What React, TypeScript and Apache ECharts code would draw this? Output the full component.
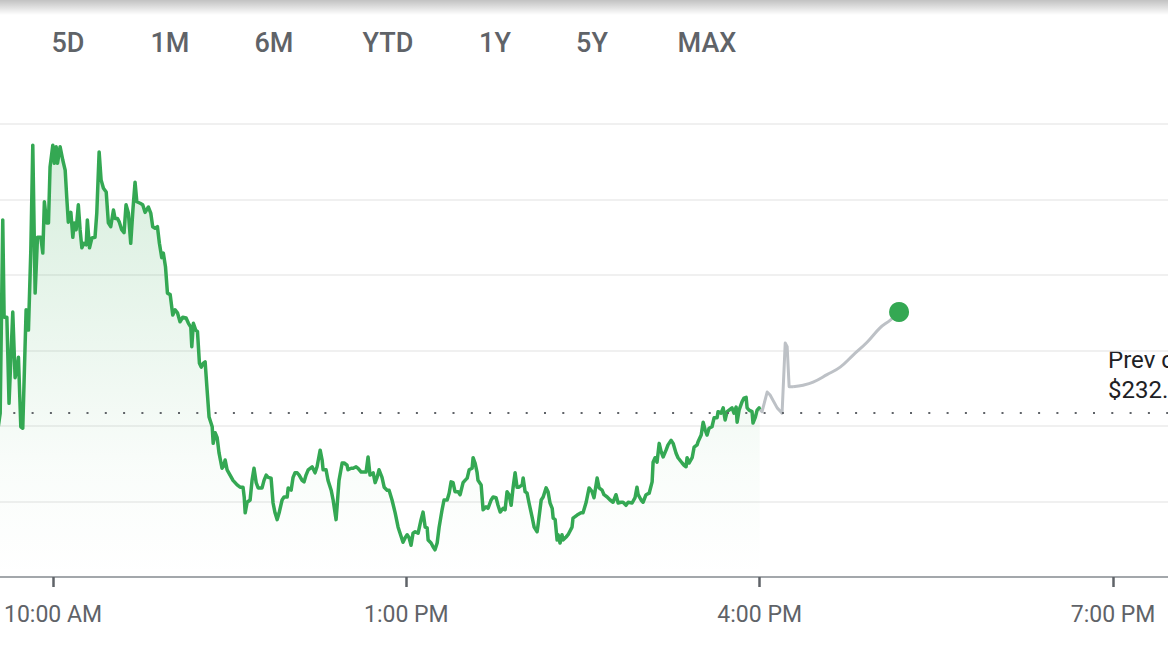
import React, { useEffect, useRef } from "react";
import * as echarts from "echarts";

// Range selector labels
const rangeLabels = ["5D", "1M", "6M", "YTD", "1Y", "5Y", "MAX"];

// Session clock: minutes after midnight of the 9:30 AM open
const openClock = 570;
// Visible time window (clock minutes) and tick times
const windowStart = 573;
const windowEnd = 1168;
const tickTimes = [600, 780, 960, 1140];

// Price axis
const priceMin = 230;
const priceMax = 236;
const priceStep = 1;
const prevClose = 232.17;

// Regular session — minutes after the open, and prices
const openMinutes = [
  2.0, 3.1, 4.4, 5.1, 6.5, 7.6, 9.5, 10.7, 11.6, 12.4, 13.6, 14.6, 16.3, 17.5, 18.7, 19.7, 20.9, 22.1, 23.8, 24.8,
  25.6, 26.8, 27.7, 28.5, 29.9, 30.7, 31.6, 32.3, 33.6, 35.0, 36.2, 37.0, 37.8, 39.1, 40.1, 40.8, 41.8, 42.9, 43.8, 44.7,
  45.8, 46.9, 47.5, 48.6, 49.8, 51.4, 52.3, 53.5, 54.5, 55.7, 57.1, 58.2, 59.4, 60.8, 61.6, 62.8, 63.8, 65.0, 66.2, 67.2,
  68.4, 69.6, 70.7, 71.8, 72.7, 74.4, 75.7, 76.9, 78.6, 79.8, 80.8, 82.0, 83.2, 84.2, 85.4, 86.2, 87.3, 88.3, 89.7, 91.0,
  92.2, 93.4, 94.7, 96.1, 97.8, 99.0, 100.2, 100.7, 101.5, 102.7, 103.6, 104.6,
];
const openPrices = [
  231.97, 232.17, 234.73, 233.44, 233.44, 232.3, 233.51, 232.64, 232.74, 232.91, 231.99, 231.97, 233.54, 233.27, 234.33, 235.72, 233.76, 234.5, 234.5, 234.29,
  234.97, 234.69, 234.69, 235.43, 235.72, 235.48, 235.7, 235.48, 235.7, 235.52, 235.39, 235.03, 234.7, 234.83, 234.5, 234.69, 234.6, 234.93, 234.6, 234.36,
  234.42, 234.4, 234.73, 234.36, 234.49, 234.5, 234.82, 235.63, 235.26, 235.15, 235.1, 234.69, 234.64, 234.86, 234.75, 234.75, 234.7, 234.6, 234.56, 234.93,
  234.82, 234.42, 234.86, 235.23, 234.97, 234.95, 234.93, 234.83, 234.9, 234.82, 234.64, 234.62, 234.64, 234.42, 234.23, 234.29, 234.11, 233.76, 233.74, 233.47,
  233.54, 233.5, 233.38, 233.44, 233.43, 233.36, 233.31, 233.05, 233.36, 233.27, 233.25, 232.83,
];

const middayMinutes = [
  105.5, 106.5, 107.5, 108.5, 109.5, 111.1, 111.6, 112.6, 113.6, 114.6, 116.1, 116.7, 117.7, 118.7, 120.2, 121.7, 123.8, 125.3, 126.8, 127.4,
  127.9, 128.9, 130.4, 131.4, 132.4, 133.5, 134.5, 136.5, 137.5, 138.6, 139.6, 141.1, 142.1, 143.1, 144.2, 145.2, 146.7, 147.7, 149.3, 149.8,
  151.3, 152.3, 153.3, 154.4, 155.4, 156.9, 157.9, 158.9, 160.0, 162.0, 163.5, 164.5, 166.1, 167.1, 167.6, 169.1, 170.1, 171.7, 172.7, 174.2,
  174.7, 175.7, 177.3, 178.3, 179.8, 180.3, 181.9, 182.9, 184.4, 185.4, 187.0, 188.0, 189.5, 190.5, 191.5, 193.1, 194.1, 195.1, 196.1, 197.6,
  198.7, 200.2, 201.2, 202.7, 204.3, 205.8,
];
const middayPrices = [
  232.78, 232.83, 232.85, 232.48, 232.12, 231.99, 231.77, 231.91, 231.85, 231.64, 231.44, 231.46, 231.55, 231.42, 231.35, 231.28, 231.22, 231.19, 231.19, 231.06,
  230.85, 230.99, 231.02, 231.28, 231.44, 231.25, 231.18, 231.18, 231.28, 231.35, 231.32, 231.31, 230.98, 230.85, 230.76, 230.85, 231.02, 231.06, 231.06, 231.18,
  231.15, 231.32, 231.38, 231.38, 231.35, 231.28, 231.26, 231.35, 231.42, 231.46, 231.38, 231.46, 231.68, 231.55, 231.42, 231.42, 231.28, 231.15, 231.02, 230.76,
  230.93, 231.28, 231.51, 231.51, 231.48, 231.42, 231.44, 231.44, 231.46, 231.44, 231.39, 231.39, 231.39, 231.59, 231.35, 231.38, 231.25, 231.32, 231.42, 231.32,
  231.19, 231.15, 231.15, 231.02, 230.85, 230.66,
];

const afternoonMinutes = [
  206.8, 208.3, 209.4, 210.4, 211.4, 212.4, 213.4, 214.5, 216.0, 217.5, 218.5, 219.6, 220.6, 221.1, 222.6, 223.6, 224.6, 225.7, 226.7, 228.2,
  229.2, 230.8, 231.8, 232.8, 233.8, 234.8, 236.4, 237.4, 238.9, 239.9, 241.0, 242.0, 243.5, 244.0, 245.0, 246.0, 246.5, 248.1, 249.1, 250.6,
  251.6, 253.2, 254.2, 255.7, 256.7, 257.8, 259.3, 260.3, 261.3, 262.3, 263.4, 264.4, 265.4, 266.4, 267.4, 269.0, 269.5, 270.5, 271.5, 272.5,
  274.1, 275.1, 276.6, 277.1, 278.7, 279.7, 281.2, 282.2, 283.2, 284.3, 284.8, 285.8, 286.8, 287.3, 288.3, 289.3, 289.8, 291.4, 292.4, 294.4,
  294.9, 297.0, 299.0, 300.0, 301.6, 303.1, 304.6, 305.6, 307.2, 308.2, 309.7, 310.7, 312.3, 313.8,
];
const afternoonPrices = [
  230.58, 230.46, 230.52, 230.56, 230.52, 230.42, 230.58, 230.6, 230.58, 230.76, 230.86, 230.66, 230.65, 230.49, 230.45, 230.4, 230.36, 230.45, 230.66, 230.89,
  231.02, 231.02, 231.11, 231.26, 231.25, 231.13, 231.13, 231.09, 231.25, 231.28, 231.31, 231.42, 231.44, 231.58, 231.51, 231.39, 231.28, 231.22, 230.89, 230.93,
  230.91, 231.02, 231.06, 231.05, 230.95, 230.86, 230.91, 230.89, 231.13, 231.09, 230.95, 231.19, 231.38, 231.19, 231.19, 231.22, 231.31, 231.13, 231.11, 230.98,
  230.79, 230.66, 230.6, 230.69, 231.02, 231.06, 231.18, 231.13, 230.98, 230.91, 230.78, 230.76, 230.49, 230.56, 230.45, 230.56, 230.49, 230.53, 230.56, 230.66,
  230.78, 230.82, 230.85, 230.85, 230.99, 231.18, 231.13, 231.05, 231.31, 231.18, 231.15, 231.09, 231.06, 231.02,
];

const closeMinutes = [
  315.3, 316.8, 317.9, 319.4, 320.4, 321.9, 323.0, 325.0, 326.5, 327.5, 328.1, 329.6, 330.6, 332.1, 333.7, 335.2, 335.7, 336.7, 337.7, 338.8,
  339.8, 340.8, 342.3, 343.3, 344.9, 345.9, 347.4, 348.4, 350.5, 351.5, 352.5, 353.0, 354.0, 355.6, 356.6, 358.1, 358.6, 360.2, 361.2, 362.2,
  363.2, 364.2, 365.7, 366.8, 368.3, 368.8, 370.3, 371.4, 372.4, 373.4, 374.4, 375.9, 376.9, 378.0, 378.5, 379.5, 381.0, 382.0, 383.1, 383.6,
  384.6, 386.1, 386.6, 387.7, 388.7, 389.7, 390.0,
];
const closePrices = [
  230.99, 231.09, 230.98, 230.99, 230.99, 230.95, 230.99, 230.98, 231.05, 231.19, 231.09, 231.02, 230.99, 231.09, 231.11, 231.26, 231.52, 231.58, 231.52, 231.77,
  231.66, 231.59, 231.68, 231.75, 231.81, 231.77, 231.64, 231.58, 231.51, 231.48, 231.46, 231.58, 231.51, 231.58, 231.72, 231.75, 231.79, 231.88, 232.05, 231.95,
  231.88, 231.97, 231.99, 232.11, 232.11, 232.19, 232.17, 232.24, 232.08, 232.19, 232.21, 232.24, 232.17, 232.25, 232.05, 232.21, 232.32, 232.37, 232.38, 232.24,
  232.21, 232.19, 232.04, 232.11, 232.21, 232.24, 232.22,
];

// After-hours trading: the early spikes, then the smooth late drift
const afterHoursMinutes = [390.0, 391.2, 393.8, 395.3, 398.9, 401.4, 403.0, 404.0, 405.0, 407.0];
const afterHoursPrices = [232.22, 232.19, 232.45, 232.41, 232.24, 232.17, 233.1, 233.05, 232.52, 232.52];
const lateMinutes = [407.0, 412.1, 417.2, 424.3, 431.0, 437.6, 444.7, 451.3, 456.4, 461.0];
const latePrices = [232.52, 232.54, 232.58, 232.68, 232.78, 232.94, 233.11, 233.3, 233.4, 233.51];

const GREEN = "#34a853";
const GREY = "#bdc1c6";
const FONT = "Roboto, 'Noto Sans', sans-serif";

function pairs(minutes: number[], prices: number[]): number[][] {
  return minutes.map((m, i) => [openClock + m, prices[i]]);
}

function clockLabel(v: number): string {
  const h = Math.floor(v / 60);
  const mm = Math.round(v - h * 60);
  const h12 = h % 12 === 0 ? 12 : h % 12;
  return `${h12}:${mm < 10 ? "0" + mm : mm} ${h >= 12 ? "PM" : "AM"}`;
}

export default function App() {
  const ref = useRef<HTMLDivElement>(null);

  useEffect(() => {
    if (!ref.current) return;
    const chart = echarts.init(ref.current, undefined, { renderer: "svg" });

    const session = [
      ...pairs(openMinutes, openPrices),
      ...pairs(middayMinutes, middayPrices),
      ...pairs(afternoonMinutes, afternoonPrices),
      ...pairs(closeMinutes, closePrices),
    ];
    const afterHours = pairs(afterHoursMinutes, afterHoursPrices);
    const late = pairs(lateMinutes, latePrices);
    const last = late[late.length - 1];

    const buttonX = [68, 170, 274, 388, 495, 592, 707];

    chart.setOption({
      animation: false,
      backgroundColor: "#ffffff",
      grid: { left: 0, right: 0, top: 124, bottom: 80 },
      xAxis: {
        type: "value",
        min: windowStart,
        max: windowEnd,
        axisLine: { show: true, lineStyle: { color: "#a3a7ab", width: 2 } },
        axisTick: {
          show: true,
          customValues: tickTimes,
          length: 10,
          lineStyle: { color: "#5f6368", width: 2.5 },
        },
        axisLabel: {
          customValues: tickTimes,
          formatter: (v: number) => clockLabel(v),
          color: "#5f6368",
          fontSize: 23,
          fontFamily: FONT,
          margin: 26,
        },
        splitLine: { show: false },
      },
      yAxis: {
        type: "value",
        min: priceMin,
        max: priceMax,
        interval: priceStep,
        axisLabel: { show: false },
        axisLine: { show: false },
        axisTick: { show: false },
        splitLine: { lineStyle: { color: "#ebebeb", width: 1.5 } },
      },
      series: [
        {
          type: "line",
          data: session,
          showSymbol: false,
          clip: true,
          lineStyle: { color: GREEN, width: 3.5, join: "round" },
          areaStyle: {
            origin: "start",
            color: new echarts.graphic.LinearGradient(0, 0, 0, 1, [
              { offset: 0, color: "rgba(52,168,83,0.28)" },
              { offset: 0.75, color: "rgba(52,168,83,0.04)" },
              { offset: 1, color: "rgba(52,168,83,0)" },
            ]),
          },
          markLine: {
            silent: true,
            symbol: ["none", "none"],
            label: { show: false },
            lineStyle: { color: "#5f6368", width: 2, type: [2, 16.3], dashOffset: 5 },
            data: [{ yAxis: prevClose }],
          },
          z: 3,
        },
        {
          type: "line",
          data: afterHours,
          showSymbol: false,
          lineStyle: { color: GREY, width: 3, join: "round" },
          z: 2,
        },
        {
          type: "line",
          data: late,
          showSymbol: false,
          smooth: 0.4,
          lineStyle: { color: GREY, width: 3, join: "round" },
          z: 2,
        },
        {
          type: "scatter",
          data: [last],
          symbolSize: 20,
          itemStyle: { color: GREEN, opacity: 1 },
          z: 5,
        },
      ],
      graphic: [
        {
          type: "rect",
          shape: { x: 0, y: 0, width: 1168, height: 15 },
          style: {
            fill: new echarts.graphic.LinearGradient(0, 0, 0, 1, [
              { offset: 0, color: "rgba(0,0,0,0.24)" },
              { offset: 1, color: "rgba(0,0,0,0)" },
            ]),
          },
          silent: true,
        },
        ...rangeLabels.map((t, i) => ({
          type: "text",
          x: buttonX[i],
          y: 43,
          style: {
            text: t,
            fill: "#5f6368",
            fontSize: 27,
            fontWeight: 500,
            fontFamily: FONT,
            align: "center",
            verticalAlign: "middle",
          },
        })),
        {
          type: "text",
          x: 1108,
          y: 345,
          style: {
            text: `Prev close\n$${prevClose.toFixed(2)}`,
            fill: "#202124",
            fontSize: 24,
            lineHeight: 30,
            fontFamily: FONT,
            align: "left",
            verticalAlign: "top",
          },
        },
      ],
    });

    return () => chart.dispose();
  }, []);

  return (
    <div
      ref={ref}
      style={{ position: "fixed", left: 0, top: 0, width: 1168, height: 657, background: "#fff" }}
    />
  );
}
